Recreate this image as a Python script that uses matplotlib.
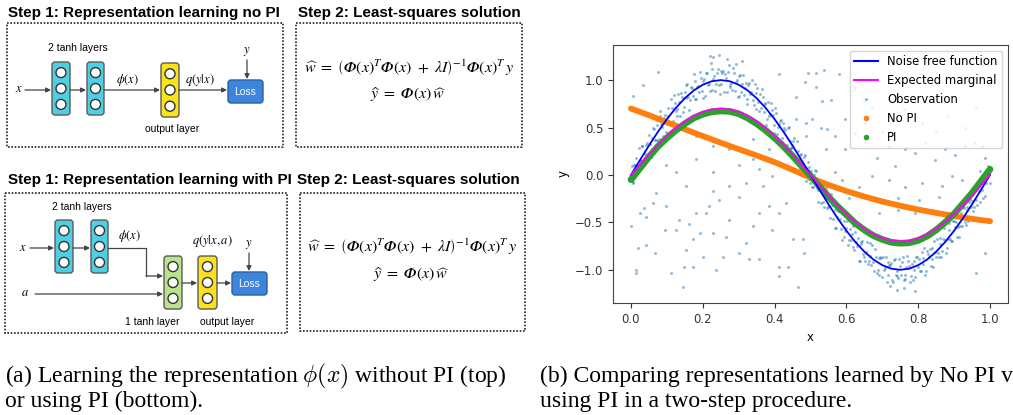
import matplotlib
matplotlib.use("Agg")
import matplotlib.pyplot as plt
from matplotlib.patches import Rectangle, FancyBboxPatch, Circle
from matplotlib.lines import Line2D

# ── data ─────────────────────────────────────────────────────────────────────
curve_x = [0.000, 0.025, 0.050, 0.075, 0.100, 0.125, 0.150, 0.175, 0.200, 0.225, 0.250,
           0.275, 0.300, 0.325, 0.350, 0.375, 0.400, 0.425, 0.450, 0.475, 0.500,
           0.525, 0.550, 0.575, 0.600, 0.625, 0.650, 0.675, 0.700, 0.725, 0.750,
           0.775, 0.800, 0.825, 0.850, 0.875, 0.900, 0.925, 0.950, 0.975, 1.000]
noise_free = [0.000, 0.156, 0.309, 0.454, 0.588, 0.707, 0.809, 0.891, 0.951, 0.988, 1.000,
              0.988, 0.951, 0.891, 0.809, 0.707, 0.588, 0.454, 0.309, 0.156, 0.000,
              -0.156, -0.309, -0.454, -0.588, -0.707, -0.809, -0.891, -0.951, -0.988, -1.000,
              -0.988, -0.951, -0.891, -0.809, -0.707, -0.588, -0.454, -0.309, -0.156, 0.000]
expected_marginal = [0.000, 0.109, 0.216, 0.318, 0.412, 0.495, 0.566, 0.624, 0.666, 0.692, 0.700,
                     0.692, 0.666, 0.624, 0.566, 0.495, 0.412, 0.318, 0.216, 0.109, 0.000,
                     -0.109, -0.216, -0.318, -0.412, -0.495, -0.566, -0.624, -0.666, -0.692, -0.700,
                     -0.692, -0.666, -0.624, -0.566, -0.495, -0.412, -0.318, -0.216, -0.109, 0.000]
pi_pred = [-0.050, 0.070, 0.190, 0.300, 0.390, 0.470, 0.540, 0.600, 0.640, 0.665, 0.675,
           0.670, 0.645, 0.600, 0.540, 0.470, 0.390, 0.300, 0.200, 0.095, -0.010,
           -0.120, -0.230, -0.330, -0.420, -0.510, -0.580, -0.640, -0.680, -0.710, -0.720,
           -0.715, -0.690, -0.645, -0.580, -0.500, -0.410, -0.300, -0.190, -0.065, 0.060]
nopi_x = [0.00, 0.05, 0.10, 0.15, 0.20, 0.25, 0.30, 0.35, 0.40, 0.45, 0.50,
          0.55, 0.60, 0.65, 0.70, 0.75, 0.80, 0.85, 0.90, 0.95, 1.00]
nopi_pred = [0.700, 0.630, 0.555, 0.482, 0.410, 0.340, 0.272, 0.205, 0.135, 0.055, -0.030,
             -0.105, -0.170, -0.228, -0.280, -0.325, -0.365, -0.400, -0.433, -0.463, -0.488]

# observations close to the noise-free curve (two passes across x)
obs_x = [0.002, 0.007, 0.012, 0.017, 0.022, 0.027, 0.032, 0.037, 0.042, 0.047,
         0.052, 0.057, 0.062, 0.067, 0.072, 0.077, 0.082, 0.087, 0.092, 0.097,
         0.102, 0.107, 0.112, 0.117, 0.122, 0.127, 0.132, 0.137, 0.142, 0.147,
         0.152, 0.157, 0.162, 0.167, 0.172, 0.177, 0.182, 0.187, 0.192, 0.197,
         0.202, 0.207, 0.212, 0.217, 0.222, 0.227, 0.232, 0.237, 0.242, 0.247,
         0.252, 0.257, 0.262, 0.267, 0.272, 0.277, 0.282, 0.287, 0.292, 0.297,
         0.302, 0.307, 0.312, 0.317, 0.322, 0.327, 0.332, 0.337, 0.342, 0.347,
         0.352, 0.357, 0.362, 0.367, 0.372, 0.377, 0.382, 0.387, 0.392, 0.397,
         0.402, 0.407, 0.412, 0.417, 0.422, 0.427, 0.432, 0.437, 0.442, 0.447,
         0.452, 0.457, 0.462, 0.467, 0.472, 0.477, 0.482, 0.487, 0.492, 0.497,
         0.502, 0.507, 0.512, 0.517, 0.522, 0.527, 0.532, 0.537, 0.542, 0.547,
         0.552, 0.557, 0.562, 0.567, 0.572, 0.577, 0.582, 0.587, 0.592, 0.597,
         0.602, 0.607, 0.612, 0.617, 0.622, 0.627, 0.632, 0.637, 0.642, 0.647,
         0.652, 0.657, 0.662, 0.667, 0.672, 0.677, 0.682, 0.687, 0.692, 0.697,
         0.702, 0.707, 0.712, 0.717, 0.722, 0.727, 0.732, 0.737, 0.742, 0.747,
         0.752, 0.757, 0.762, 0.767, 0.772, 0.777, 0.782, 0.787, 0.792, 0.797,
         0.802, 0.807, 0.812, 0.817, 0.822, 0.827, 0.832, 0.837, 0.842, 0.847,
         0.852, 0.857, 0.862, 0.867, 0.872, 0.877, 0.882, 0.887, 0.892, 0.897,
         0.902, 0.907, 0.912, 0.917, 0.922, 0.927, 0.932, 0.937, 0.942, 0.947,
         0.952, 0.957, 0.962, 0.967, 0.972, 0.977, 0.982, 0.987, 0.992, 0.997]
obs_y = [0.09, -0.07, 0.11, 0.06, 0.28, 0.15, 0.30, 0.10, 0.32, 0.22,
         0.33, 0.19, 0.50, 0.37, 0.53, 0.38, 0.67, 0.51, 0.60, 0.45,
         0.62, 0.56, 0.80, 0.57, 0.76, 0.69, 0.85, 0.62, 0.82, 0.72,
         0.81, 0.96, 0.68, 0.93, 0.83, 0.99, 0.80, 0.94, 1.09, 0.88,
         0.99, 0.83, 1.07, 0.96, 1.18, 0.90, 1.04, 0.96, 1.12, 0.85,
         0.96, 1.10, 1.06, 0.87, 1.16, 0.95, 0.90, 1.08, 0.98, 0.82,
         1.04, 0.87, 1.05, 0.92, 0.80, 0.95, 0.85, 1.00, 0.74, 0.86,
         0.92, 0.67, 0.71, 0.82, 0.75, 0.53, 0.77, 0.64, 0.68, 0.53,
         0.71, 0.43, 0.54, 0.58, 0.39, 0.49, 0.26, 0.49, 0.36, 0.28,
         0.36, 0.16, 0.36, 0.14, 0.21, 0.12, 0.19, -0.06, 0.14, -0.04,
         0.04, -0.13, 0.05, -0.14, -0.28, -0.10, -0.18, -0.34, -0.16, -0.35,
         -0.33, -0.20, -0.46, -0.37, -0.56, -0.38, -0.46, -0.69, -0.49, -0.59,
         -0.49, -0.69, -0.69, -0.54, -0.79, -0.71, -0.66, -0.91, -0.73, -0.83,
         -0.91, -0.71, -0.91, -0.85, -0.74, -1.01, -0.87, -1.00, -1.06, -0.88,
         -0.86, -0.98, -1.13, -0.92, -0.95, -1.11, -0.90, -1.05, -1.07, -0.89,
         -1.06, -0.87, -1.10, -0.97, -0.91, -1.13, -0.94, -1.00, -1.08, -0.86,
         -0.89, -1.01, -0.94, -0.77, -1.01, -0.83, -0.78, -0.89, -0.97, -0.81,
         -0.68, -0.87, -0.73, -0.80, -0.56, -0.82, -0.68, -0.58, -0.70, -0.49,
         -0.55, -0.65, -0.37, -0.54, -0.54, -0.35, -0.53, -0.34, -0.29, -0.34,
         -0.38, -0.13, -0.26, -0.12, -0.28, -0.09, -0.01, -0.22, -0.03, 0.06]
obs2_x = [0.0045, 0.0095, 0.0145, 0.0195, 0.0245, 0.0295, 0.0345, 0.0395, 0.0445, 0.0495,
          0.0545, 0.0595, 0.0645, 0.0695, 0.0745, 0.0795, 0.0845, 0.0895, 0.0945, 0.0995,
          0.1045, 0.1095, 0.1145, 0.1195, 0.1245, 0.1295, 0.1345, 0.1395, 0.1445, 0.1495,
          0.1545, 0.1595, 0.1645, 0.1695, 0.1745, 0.1795, 0.1845, 0.1895, 0.1945, 0.1995,
          0.2045, 0.2095, 0.2145, 0.2195, 0.2245, 0.2295, 0.2345, 0.2395, 0.2445, 0.2495,
          0.2545, 0.2595, 0.2645, 0.2695, 0.2745, 0.2795, 0.2845, 0.2895, 0.2945, 0.2995,
          0.3045, 0.3095, 0.3145, 0.3195, 0.3245, 0.3295, 0.3345, 0.3395, 0.3445, 0.3495,
          0.3545, 0.3595, 0.3645, 0.3695, 0.3745, 0.3795, 0.3845, 0.3895, 0.3945, 0.3995,
          0.4045, 0.4095, 0.4145, 0.4195, 0.4245, 0.4295, 0.4345, 0.4395, 0.4445, 0.4495,
          0.4545, 0.4595, 0.4645, 0.4695, 0.4745, 0.4795, 0.4845, 0.4895, 0.4945, 0.4995,
          0.5045, 0.5095, 0.5145, 0.5195, 0.5245, 0.5295, 0.5345, 0.5395, 0.5445, 0.5495,
          0.5545, 0.5595, 0.5645, 0.5695, 0.5745, 0.5795, 0.5845, 0.5895, 0.5945, 0.5995,
          0.6045, 0.6095, 0.6145, 0.6195, 0.6245, 0.6295, 0.6345, 0.6395, 0.6445, 0.6495,
          0.6545, 0.6595, 0.6645, 0.6695, 0.6745, 0.6795, 0.6845, 0.6895, 0.6945, 0.6995,
          0.7045, 0.7095, 0.7145, 0.7195, 0.7245, 0.7295, 0.7345, 0.7395, 0.7445, 0.7495,
          0.7545, 0.7595, 0.7645, 0.7695, 0.7745, 0.7795, 0.7845, 0.7895, 0.7945, 0.7995,
          0.8045, 0.8095, 0.8145, 0.8195, 0.8245, 0.8295, 0.8345, 0.8395, 0.8445, 0.8495,
          0.8545, 0.8595, 0.8645, 0.8695, 0.8745, 0.8795, 0.8845, 0.8895, 0.8945, 0.8995,
          0.9045, 0.9095, 0.9145, 0.9195, 0.9245, 0.9295, 0.9345, 0.9395, 0.9445, 0.9495,
          0.9545, 0.9595, 0.9645, 0.9695, 0.9745, 0.9795, 0.9845, 0.9895, 0.9945, 0.9995]
obs2_y = [-0.09, 0.10, 0.18, 0.05, 0.16, 0.31, 0.12, 0.22, 0.34, 0.42,
          0.19, 0.39, 0.48, 0.37, 0.36, 0.62, 0.54, 0.41, 0.63, 0.58,
          0.71, 0.56, 0.71, 0.84, 0.67, 0.62, 0.77, 0.86, 0.66, 0.87,
          0.95, 0.82, 0.79, 0.92, 1.06, 0.80, 0.93, 0.87, 1.02, 0.81,
          1.01, 1.08, 0.95, 0.89, 1.12, 1.01, 0.88, 1.07, 0.95, 1.10,
          1.07, 0.87, 1.02, 1.09, 0.93, 0.97, 1.13, 0.88, 1.00, 0.83,
          1.05, 0.96, 0.84, 0.97, 0.75, 0.97, 0.87, 0.79, 0.96, 0.70,
          0.77, 0.85, 0.91, 0.66, 0.76, 0.59, 0.62, 0.76, 0.63, 0.44,
          0.65, 0.51, 0.57, 0.35, 0.55, 0.47, 0.32, 0.51, 0.28, 0.32,
          0.39, 0.16, 0.25, 0.07, 0.22, 0.09, 0.21, 0.04, 0.08, -0.08,
          -0.13, 0.00, 0.04, -0.16, -0.13, -0.30, -0.29, -0.16, -0.13, -0.34,
          -0.45, -0.32, -0.32, -0.56, -0.44, -0.38, -0.57, -0.41, -0.65, -0.56,
          -0.74, -0.57, -0.62, -0.76, -0.60, -0.75, -0.91, -0.71, -0.70, -0.86,
          -0.81, -0.94, -0.72, -0.95, -0.92, -0.78, -1.03, -0.88, -0.86, -1.08,
          -1.00, -0.87, -1.06, -0.95, -0.93, -1.13, -0.89, -1.01, -1.09, -0.96,
          -0.92, -1.11, -1.05, -0.85, -0.96, -1.07, -1.11, -0.91, -0.86, -0.97,
          -1.01, -0.81, -0.88, -1.06, -0.80, -0.87, -0.96, -0.77, -0.70, -0.87,
          -0.82, -0.66, -0.87, -0.68, -0.69, -0.77, -0.51, -0.68, -0.70, -0.49,
          -0.50, -0.55, -0.65, -0.40, -0.34, -0.50, -0.37, -0.49, -0.25, -0.27,
          -0.34, -0.12, -0.32, -0.17, -0.08, -0.24, -0.04, -0.09, 0.09, -0.08]
# scattered observations away from the curve
out_x = [0.015, 0.013, 0.019, 0.043, 0.001, 0.024, 0.035, 0.061, 0.070, 0.042,
         0.098, 0.112, 0.144, 0.149, 0.068, 0.126, 0.094, 0.135, 0.163, 0.172,
         0.191, 0.181, 0.209, 0.218, 0.228, 0.246, 0.228, 0.274, 0.265, 0.256,
         0.200, 0.172, 0.154, 0.237, 0.302, 0.330, 0.357, 0.320, 0.339, 0.357,
         0.385, 0.413, 0.431, 0.394, 0.450, 0.413, 0.436, 0.413, 0.464, 0.478,
         0.483, 0.302, 0.274, 0.320, 0.367, 0.394, 0.357, 0.302, 0.339, 0.228,
         0.181, 0.154, 0.126, 0.098, 0.181, 0.228, 0.274, 0.339, 0.385, 0.075,
         0.033, 0.006, 0.413, 0.459, 0.487, 0.459, 0.487, 0.441, 0.468, 0.228,
         0.246, 0.220, 0.310, 0.292, 0.268,
         0.514, 0.486, 0.532, 0.556, 0.505, 0.528, 0.569, 0.542, 0.597, 0.625,
         0.653, 0.671, 0.648, 0.625, 0.644, 0.579, 0.685, 0.718, 0.736, 0.764,
         0.792, 0.819, 0.847, 0.875, 0.903, 0.931, 0.958, 0.977, 0.986, 0.972,
         0.921, 0.894, 0.866, 0.810, 0.764, 0.718, 0.671, 0.634, 0.588, 0.606,
         0.569, 0.699, 0.745, 0.801, 0.792, 0.745, 0.690, 0.857, 0.977, 0.537,
         0.514, 0.597, 0.653, 0.494, 0.546, 0.986, 0.962, 0.740, 0.760, 0.720,
         0.790, 0.700, 0.730, 0.760, 0.810, 0.850, 0.880, 0.930, 0.960]
out_y = [-1.00, -1.03, -0.77, -0.74, -0.54, -0.40, -0.35, -0.30, -0.19, -0.44,
         -0.33, -1.03, -1.18, -0.97, -0.82, -0.58, -0.58, -0.47, -0.52, -0.68,
         -0.61, -0.40, -0.40, -0.33, -0.17, -0.26, -0.61, -0.47, -0.65, -0.86,
         -0.86, -0.97, -0.79, -1.00, -0.82, -0.89, -0.89, -0.72, -0.54, -0.40,
         -0.33, -0.40, -0.30, -0.58, -0.68, -0.97, -0.97, -1.07, -1.18, -0.68,
         -0.82, -0.23, -0.12, -0.08, -0.12, -0.01, 0.06, 0.10, 0.17, 0.03,
         0.17, -0.12, 0.03, 0.10, 0.41, 0.31, 0.27, 0.38, 0.27, 1.09,
         0.95, 0.83, 1.06, 0.82, 0.55, 0.59, 0.41, 0.27, 0.10, 1.24,
         1.26, 1.25, 1.20, 1.17, 1.22,
         1.08, 0.98, 0.78, 0.79, 0.59, 0.50, 0.41, 0.27, 0.27, 0.44,
         0.55, 0.72, 0.78, 0.92, 1.01, 1.06, 0.18, 0.30, 0.09, 0.27,
         0.23, 0.34, 0.16, 0.27, 0.21, 0.30, 0.34, 0.30, 0.18, 0.04,
         -0.05, -0.01, -0.12, -0.08, -0.13, -0.05, -0.01, -0.13, -0.05, -0.24,
         0.03, -0.26, -0.24, -0.26, -0.40, -0.37, -0.40, -0.23, -0.16, 1.11,
         0.93, 0.59, 0.62, 1.08, 0.48, -0.82, -1.03, -1.21, -1.19, -1.17,
         -1.22, 0.45, 0.60, 0.70, 0.55, 0.45, 0.62, 0.50, 0.72]

legend_labels = ["Noise free function", "Expected marginal", "Observation", "No PI", "PI"]
x_ticks = [0.0, 0.2, 0.4, 0.6, 0.8, 1.0]
y_ticks = [-1.0, -0.5, 0.0, 0.5, 1.0]

# ── figure + pixel-space overlay for the diagrams ───────────────────────────
W, H = 1013, 415
fig = plt.figure(figsize=(W / 100, H / 100), dpi=100)
ax0 = fig.add_axes([0, 0, 1, 1])
ax0.set_xlim(0, W); ax0.set_ylim(H, 0); ax0.axis("off")

SANS = "Liberation Sans"
CYAN, YEL, GRN, BLU = "#4fd0e2", "#f8e31c", "#b9e38c", "#3d84dc"


def dotted_box(x0, y0, x1, y1):
    ax0.add_patch(Rectangle((x0, y0), x1 - x0, y1 - y0, fill=False, ec="#222222",
                            lw=1.2, ls=(0, (1, 1))))


def layer(x0, y0, w, h, color):
    ax0.add_patch(FancyBboxPatch((x0, y0), w, h, boxstyle="round,pad=0,rounding_size=3",
                                 fc=color, ec="#5a5a5a", lw=1.0))
    for f in (0.2, 0.5, 0.8):
        ax0.add_patch(Circle((x0 + w / 2, y0 + h * f), 5, fc="white", ec="#333333", lw=1.0))


def loss_box(x0, y0, w=35, h=23):
    ax0.add_patch(FancyBboxPatch((x0, y0), w, h, boxstyle="round,pad=0,rounding_size=3",
                                 fc=BLU, ec="#2b5f9e", lw=1.0))
    ax0.text(x0 + w / 2, y0 + h / 2 + 0.5, "Loss", color="white", fontsize=7.5, family=SANS,
             ha="center", va="center")


def arrow(p0, p1):
    ax0.annotate("", xy=p1, xytext=p0,
                 arrowprops=dict(arrowstyle="-|>", color="#444444", lw=0.9,
                                 mutation_scale=7, shrinkA=0, shrinkB=0))


def mlabel(x, y, s, size=9):
    ax0.text(x, y, s, fontsize=size, ha="center", va="center", math_fontfamily="stix")


def slabel(x, y, s):
    ax0.text(x, y, s, fontsize=7.5, family=SANS, ha="center", va="center")


# titles
for (x, y, s) in [(8, 17, "Step 1: Representation learning no PI"),
                  (298, 17, "Step 2: Least-squares solution"),
                  (8, 184, "Step 1: Representation learning with PI"),
                  (297, 184, "Step 2: Least-squares solution")]:
    ax0.text(x, y, s, fontsize=11, fontweight="bold", family=SANS, va="baseline", ha="left")

dotted_box(7, 23, 283, 147); dotted_box(296, 23, 522, 147)
dotted_box(5, 193, 287, 333); dotted_box(300, 193, 525, 331)

# top network (no PI)
layer(52, 62, 18, 53, CYAN); layer(87, 62, 17, 53, CYAN); layer(161, 63, 18, 54, YEL)
loss_box(228, 80)
arrow((25, 90), (51, 90)); arrow((70, 90), (86, 90))
arrow((104, 90), (160, 90)); arrow((179, 90), (227, 90)); arrow((247, 60), (247, 79))
mlabel(19, 89, r"$x$"); mlabel(128, 80, r"$\phi(x)$"); mlabel(200, 80, r"$q(y|x)$")
mlabel(247, 51, r"$y$")
slabel(78, 48, "2 tanh layers"); slabel(172, 129, "output layer")

# bottom network (with PI)
layer(55, 220, 18, 53, CYAN); layer(91, 220, 17, 53, CYAN)
layer(164, 256, 18, 53, GRN); layer(198, 256, 19, 53, YEL)
loss_box(232, 272)
arrow((30, 248), (54, 248)); arrow((73, 248), (90, 248))
ax0.plot([108, 146, 146], [248, 248, 276], color="#444444", lw=0.9)
arrow((146, 276), (163, 276))
arrow((35, 294), (163, 294)); arrow((182, 283), (197, 283)); arrow((217, 283), (231, 283))
arrow((249, 253), (249, 271))
mlabel(23, 247, r"$x$"); mlabel(25, 292, r"$a$"); mlabel(130, 236, r"$\phi(x)$")
mlabel(212, 241, r"$q(y|x,a)$"); mlabel(249, 244, r"$y$")
slabel(82, 207, "2 tanh layers"); slabel(152, 322, "1 tanh layer"); slabel(227, 322, "output layer")

# least-squares equations (italic capital phi)
PHI = "\U0001D6F7"
EQ1 = r"$\widehat{w}\ =\ \left(%s(x)^T%s(x)\ +\ \lambda I\right)^{-1}%s(x)^T\,y$" % (PHI, PHI, PHI)
EQ2 = r"$\widehat{y}\ =\ %s(x)\,\widehat{w}$" % PHI
for (x, y1, y2) in [(409, 68, 95), (412, 247, 275)]:
    ax0.text(x, y1, EQ1, fontsize=11.5, ha="center", va="center", math_fontfamily="stix")
    ax0.text(x, y2, EQ2, fontsize=11.5, ha="center", va="center", math_fontfamily="stix")

# captions
CAP = dict(fontsize=17, family="Liberation Serif", va="baseline", ha="left", math_fontfamily="cm")
ax0.text(5, 382, r"(a) Learning the representation $\phi(x)$ without PI (top)", **CAP)
ax0.text(5, 407, "or using PI (bottom).", **CAP)
ax0.text(540, 382, "(b) Comparing representations learned by No PI v", **CAP)
ax0.text(540, 407, "using PI in a two-step procedure.", **CAP)

# ── right panel: scatter + fitted curves ─────────────────────────────────────
ax = fig.add_axes([613 / W, 112 / H, 395 / W, 258 / H])
ax.scatter(obs_x + obs2_x + out_x, obs_y + obs2_y + out_y, s=4.5, color="C0", alpha=0.5, lw=0)
ax.plot(nopi_x, nopi_pred, color="C1", lw=4.2, solid_capstyle="round")
ax.plot(curve_x, pi_pred, color="C2", lw=4.8, solid_capstyle="round")
ax.plot(curve_x, noise_free, color="blue", lw=1.3)
ax.plot(curve_x, expected_marginal, color="magenta", lw=1.3)
ax.set_xlim(-0.05, 1.05); ax.set_ylim(-1.35, 1.37)
ax.set_xticks(x_ticks); ax.set_yticks(y_ticks)
ax.tick_params(labelsize=8.4, colors="#333333")
ax.set_xlabel("x", fontsize=8.4); ax.set_ylabel("y", fontsize=8.4)
for sp in ax.spines.values():
    sp.set_color("#444444")

handles = [Line2D([], [], color="blue", lw=1.5),
           Line2D([], [], color="magenta", lw=1.5),
           Line2D([], [], ls="none", marker="o", ms=1.2, color="C0", alpha=0.45),
           Line2D([], [], ls="none", marker="o", ms=3, color="C1"),
           Line2D([], [], ls="none", marker="o", ms=3, color="C2")]
ax.legend(handles, legend_labels, loc="upper right", fontsize=8.4, framealpha=0.8)

fig.savefig("out.png", dpi=100)
